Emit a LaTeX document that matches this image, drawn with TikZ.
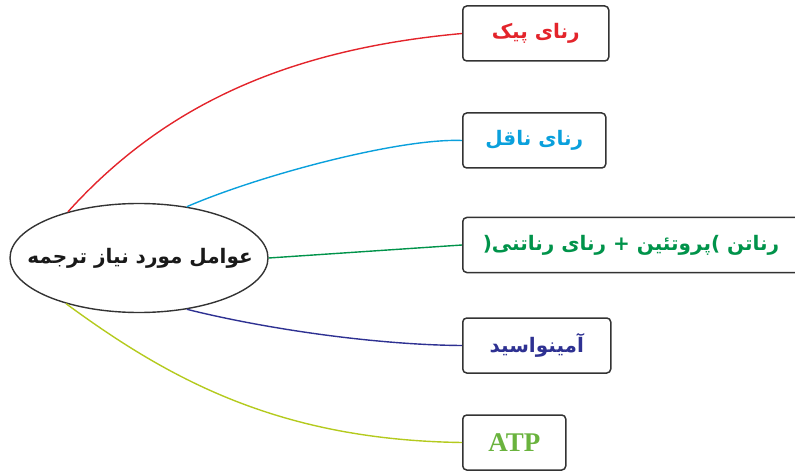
\documentclass[tikz,border=0pt]{standalone}
\usepackage{fontspec}
\usetikzlibrary{shapes.geometric}
\TeXXeTstate=1
\setmainfont{Liberation Serif}
\newfontfamily\arabicfont[Script=Arabic]{DejaVu Sans}
\definecolor{cred}{HTML}{E3242B}
\definecolor{cblue}{HTML}{0AA0DC}
\definecolor{cgreen}{HTML}{00934A}
\definecolor{cpurple}{HTML}{2E3192}
\definecolor{catp}{HTML}{6AB33E}
\definecolor{cyel}{HTML}{B4CA1E}
\definecolor{cline}{HTML}{333333}
\tikzset{
  mainell/.style={ellipse, draw=cline, line width=1.4pt, minimum width=258pt, minimum height=109pt, inner sep=0pt},
  maintext/.style={inner sep=0pt, font=\arabicfont\bfseries\fontsize{20}{24}\selectfont, text=black!90},
  itembox/.style={rectangle, draw=cline, line width=1.5pt, rounded corners=4pt, minimum height=55pt, anchor=west, inner sep=0pt, font=\arabicfont\bfseries\fontsize{20}{24}\selectfont},
  itemtext/.style={inner sep=0pt, font=\arabicfont\bfseries\fontsize{20}{24}\selectfont},
  conn/.style={line width=1.4pt}
}
\begin{document}
\begin{tikzpicture}[x=1pt,y=-1pt]
\useasboundingbox (0,0) rectangle (795,473);
\clip (0,0) rectangle (795,473);
\node[mainell] (e) at (139,258) {};
\node[maintext] (et) at (140,258) {\beginR عوامل مورد نیاز ترجمه\endR};
\node[itembox, minimum width=146pt, text=cred] (b1) at (462,33.5) {\beginR رنای پیک\endR};
\node[itembox, minimum width=143pt, text=cblue] (b2) at (462,140.5) {\beginR رنای ناقل\endR};
\node[itembox, minimum width=360pt] (b3) at (462,245) {};
\node[itemtext, text=cgreen] (t3) at (631,245) {\beginR رناتن )\kern0pt پروتئین + رنای رناتنی\kern0pt(\endR};
\node[itembox, minimum width=148pt, text=cpurple] (b4) at (462,345.5) {\beginR آمینواسید\endR};
\node[itembox, minimum width=103pt, text=catp, font=\bfseries\fontsize{27}{30}\selectfont] (b5) at (462,442.5) {ATP};
\draw[conn, cred] (e.147) .. controls (160,110) and (280,50) .. (b1.west);
\draw[conn, cblue] (e.47) .. controls (260,175) and (400,138) .. (b2.west);
\draw[conn, cgreen] (e.east) -- (b3.west);
\draw[conn, cpurple] (e.-47) .. controls (270,330) and (380,345) .. (b4.west);
\draw[conn, cyel] (e.212) .. controls (170,380) and (280,440) .. (b5.west);
\end{tikzpicture}
\end{document}
